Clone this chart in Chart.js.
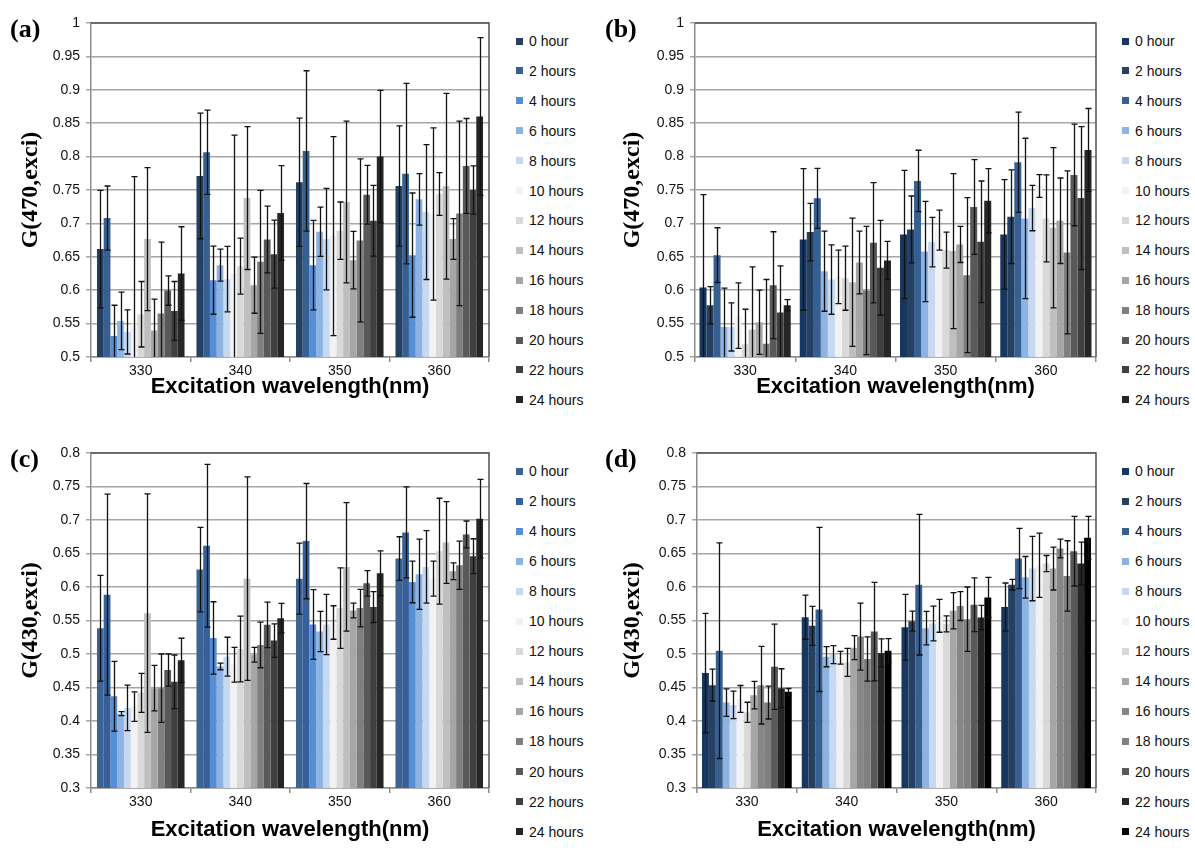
<!DOCTYPE html>
<html><head><meta charset="utf-8">
<script src="https://cdn.jsdelivr.net/npm/chart.js@4.4.1/dist/chart.umd.min.js"></script>
<style>
body{margin:0;background:#fff;width:1195px;height:850px;position:relative;overflow:hidden;font-family:"Liberation Sans",Arial,sans-serif;}
canvas.cv{position:absolute;}
.plabel{position:absolute;font-family:"Liberation Serif","Times New Roman",serif;font-weight:bold;font-size:26px;line-height:26px;color:#000;}
.lg{position:absolute;white-space:nowrap;font-size:14px;line-height:16px;height:16px;color:#111;}
.sw{position:absolute;width:7px;height:7px;}
</style></head><body>
<script>
// ---------- data ----------
const categories = ['330', '340', '350', '360'];
const hourLabels = ['0 hour','2 hours','4 hours','6 hours','8 hours','10 hours','12 hours','14 hours','16 hours','18 hours','20 hours','22 hours','24 hours'];

// panel (a): G(470,exci) — one row per series, values for 330/340/350/360 nm
const valuesA = [
  [0.6615, 0.771, 0.7615, 0.756],
  [0.708, 0.8065, 0.8085, 0.7745],
  [0.5315, 0.615, 0.6375, 0.6525],
  [0.554, 0.6375, 0.6875, 0.736],
  [0.5375, 0.6165, 0.6765, 0.717],
  [0.55, 0.625, 0.681, 0.714],
  [0.564, 0.636, 0.689, 0.744],
  [0.6765, 0.738, 0.732, 0.7555],
  [0.5395, 0.6075, 0.645, 0.6765],
  [0.565, 0.6425, 0.6745, 0.715],
  [0.5995, 0.676, 0.743, 0.786],
  [0.569, 0.654, 0.704, 0.75],
  [0.625, 0.7155, 0.8, 0.86]
];
const errorsA = [
  [0.088, 0.094, 0.096, 0.09],
  [0.048, 0.063, 0.12, 0.135],
  [0.046, 0.051, 0.067, 0.093],
  [0.043, 0.024, 0.037, 0.0385],
  [0.033, 0.049, 0.076, 0.101],
  [0.22, 0.207, 0.149, 0.129],
  [0.049, 0.042, 0.043, 0.032],
  [0.107, 0.107, 0.121, 0.139],
  [0.047, 0.042, 0.043, 0.0305],
  [0.107, 0.107, 0.122, 0.138],
  [0.022, 0.05, 0.044, 0.071],
  [0.044, 0.051, 0.053, 0.036],
  [0.07, 0.071, 0.099, 0.118]
];

// panel (b): G(470,exci)
const valuesB = [
  [0.604, 0.676, 0.6835, 0.6835],
  [0.5775, 0.687, 0.691, 0.71],
  [0.6525, 0.7375, 0.7635, 0.7915],
  [0.545, 0.6285, 0.658, 0.7075],
  [0.545, 0.616, 0.672, 0.723],
  [0.562, 0.62, 0.69, 0.756],
  [0.519, 0.618, 0.66, 0.7075],
  [0.541, 0.612, 0.6585, 0.6935],
  [0.552, 0.6415, 0.6685, 0.704],
  [0.52, 0.5995, 0.6225, 0.6565],
  [0.6075, 0.671, 0.7245, 0.7725],
  [0.5665, 0.6335, 0.6725, 0.738],
  [0.5775, 0.6445, 0.734, 0.81]
];
const errorsB = [
  [0.139, 0.106, 0.096, 0.082],
  [0.028, 0.043, 0.05, 0.07],
  [0.041, 0.045, 0.046, 0.075],
  [0.058, 0.06, 0.075, 0.12],
  [0.036, 0.052, 0.037, 0.034],
  [0.049, 0.04, 0.03, 0.017],
  [0.0525, 0.048, 0.027, 0.065],
  [0.094, 0.096, 0.116, 0.12],
  [0.048, 0.047, 0.027, 0.064],
  [0.096, 0.096, 0.116, 0.122],
  [0.08, 0.09, 0.071, 0.076],
  [0.07, 0.071, 0.091, 0.107],
  [0.0085, 0.0285, 0.048, 0.062]
];

// panel (c): G(430,exci)
const valuesC = [
  [0.5385, 0.626, 0.6125, 0.6425],
  [0.5885, 0.6615, 0.6685, 0.6815],
  [0.437, 0.524, 0.544, 0.6075],
  [0.411, 0.4815, 0.5335, 0.619],
  [0.4195, 0.496, 0.544, 0.63],
  [0.4215, 0.484, 0.547, 0.6125],
  [0.442, 0.5075, 0.5685, 0.6535],
  [0.561, 0.6125, 0.63, 0.6665],
  [0.449, 0.499, 0.565, 0.6235],
  [0.449, 0.5135, 0.5685, 0.6325],
  [0.476, 0.5435, 0.6055, 0.6785],
  [0.4585, 0.52, 0.57, 0.646],
  [0.4905, 0.5535, 0.6205, 0.702]
];
const errorsC = [
  [0.079, 0.063, 0.053, 0.0325],
  [0.15, 0.1215, 0.086, 0.068],
  [0.052, 0.054, 0.052, 0.031],
  [0.003, 0.005, 0.03, 0.0525],
  [0.034, 0.029, 0.045, 0.054],
  [0.022, 0.026, 0.025, 0.026],
  [0.029, 0.049, 0.06, 0.079],
  [0.178, 0.152, 0.096, 0.061],
  [0.034, 0.011, 0.011, 0.0125],
  [0.051, 0.034, 0.028, 0.036],
  [0.024, 0.034, 0.019, 0.02],
  [0.04, 0.025, 0.023, 0.026],
  [0.033, 0.022, 0.0335, 0.0585]
];

// panel (d): G(430,exci)
const valuesD = [
  [0.4715, 0.555, 0.54, 0.57],
  [0.4535, 0.542, 0.549, 0.6035],
  [0.505, 0.5665, 0.6035, 0.6425],
  [0.4275, 0.496, 0.5385, 0.6145],
  [0.424, 0.499, 0.5455, 0.6275],
  [0.433, 0.4945, 0.557, 0.6325],
  [0.413, 0.4875, 0.545, 0.635],
  [0.4385, 0.5095, 0.5645, 0.6275],
  [0.4535, 0.526, 0.5715, 0.6575],
  [0.4275, 0.4925, 0.552, 0.6165],
  [0.481, 0.5335, 0.5735, 0.6535],
  [0.449, 0.5015, 0.5545, 0.635],
  [0.4435, 0.505, 0.5845, 0.6735]
];
const errorsD = [
  [0.089, 0.033, 0.049, 0.036],
  [0.024, 0.029, 0.015, 0.008],
  [0.161, 0.1225, 0.105, 0.045],
  [0.0205, 0.015, 0.025, 0.031],
  [0.0205, 0.0135, 0.026, 0.048],
  [0.02, 0.0095, 0.0245, 0.048],
  [0.015, 0.021, 0.012, 0.012],
  [0.0205, 0.018, 0.027, 0.032],
  [0.058, 0.05, 0.0215, 0.014],
  [0.0245, 0.033, 0.048, 0.0525],
  [0.0635, 0.0735, 0.04, 0.052],
  [0.029, 0.021, 0.018, 0.032],
  [0.005, 0.018, 0.03, 0.032]
];

const colorsA = ['#254061','#376092','#558ed5','#8db3e2','#c6d9f1','#f2f2f2','#d9d9d9','#bfbfbf','#a6a6a6','#7f7f7f','#595959','#404040','#262626'];
const colorsB = ['#17375e','#254061','#376092','#8db3e2','#c6d9f1','#f2f2f2','#d9d9d9','#bfbfbf','#a6a6a6','#7f7f7f','#595959','#404040','#262626'];
const colorsC = ['#3b6393','#37609a','#558ed5','#8db3e2','#c6d9f1','#f2f2f2','#d9d9d9','#bfbfbf','#a6a6a6','#7f7f7f','#595959','#404040','#262626'];
const colorsD = ['#17375e','#254061','#376092','#8db3e2','#c6d9f1','#f2f2f2','#d9d9d9','#a6a6a6','#868686','#7f7f7f','#595959','#262626','#000000'];

const xTitle = 'Excitation wavelength(nm)';

// ---------- plugins ----------
const errorBarPlugin = {
  id: 'errbars',
  afterDatasetsDraw(chart) {
    const ctx = chart.ctx, ys = chart.scales.y, a = chart.chartArea;
    ctx.save();
    ctx.beginPath();
    ctx.rect(a.left, a.top - 1, a.right - a.left, a.bottom - a.top + 1);
    ctx.clip();
    ctx.strokeStyle = '#111';
    ctx.lineWidth = 1.3;
    chart.data.datasets.forEach((ds, i) => {
      const meta = chart.getDatasetMeta(i);
      meta.data.forEach((el, j) => {
        const v = ds.data[j], e = ds.errors[j];
        const x = Math.round(el.x) + 0.5;
        const y1 = ys.getPixelForValue(v + e), y2 = ys.getPixelForValue(v - e);
        ctx.beginPath();
        ctx.moveTo(x, y1); ctx.lineTo(x, y2);
        ctx.moveTo(x - 3, y1); ctx.lineTo(x + 3, y1);
        ctx.moveTo(x - 3, y2); ctx.lineTo(x + 3, y2);
        ctx.stroke();
      });
    });
    ctx.restore();
  }
};
const framePlugin = {
  id: 'frame',
  afterDraw(chart) {
    const ctx = chart.ctx, a = chart.chartArea;
    ctx.save();
    ctx.strokeStyle = '#505050';
    ctx.lineWidth = 1.5;
    ctx.beginPath();
    ctx.moveTo(a.left, a.top); ctx.lineTo(a.right, a.top); ctx.lineTo(a.right, a.bottom);
    ctx.stroke();
    ctx.restore();
  }
};

function makePanel(p) {
  const canvas = document.createElement('canvas');
  canvas.className = 'cv';
  canvas.width = p.w; canvas.height = p.h;
  canvas.style.left = p.left + 'px'; canvas.style.top = p.top + 'px';
  canvas.style.width = p.w + 'px'; canvas.style.height = p.h + 'px';
  document.body.appendChild(canvas);
  const datasets = hourLabels.map((lab, i) => ({
    label: lab, data: p.values[i], errors: p.errors[i],
    backgroundColor: p.colors[i], borderWidth: 0,
    categoryPercentage: p.catPct, barPercentage: 1
  }));
  new Chart(canvas, {
    type: 'bar',
    data: { labels: categories, datasets },
    options: {
      responsive: false, animation: false, devicePixelRatio: 1,
      layout: { padding: { top: p.padTop, right: p.padRight, left: 0, bottom: 0 } },
      plugins: { legend: { display: false }, tooltip: { enabled: false } },
      scales: {
        x: {
          grid: { display: true, drawOnChartArea: false, drawTicks: true, tickLength: 5, color: '#8c8c8c', lineWidth: 1.5, offset: true },
          border: { display: true, color: '#8c8c8c', width: 1.5 },
          ticks: { font: { size: 14, family: 'Liberation Sans' }, color: '#111', padding: 1, maxRotation: 0 },
          title: { display: true, text: xTitle, color: '#000', font: { size: 22, weight: 'bold', family: 'Liberation Sans' }, padding: { top: 0, bottom: p.xTitlePad } },
          afterFit(s) { s.height = p.xH; }
        },
        y: {
          min: p.min, max: p.max,
          ticks: { stepSize: 0.05, font: { size: 14, family: 'Liberation Sans' }, color: '#111', padding: 6,
                   callback: v => String(parseFloat(Number(v).toFixed(2))) },
          grid: { color: '#a6a6a6', lineWidth: 1.5, tickLength: 5 },
          border: { display: true, color: '#8c8c8c', width: 1.5 },
          title: { display: true, text: p.yTitle, color: '#000', font: { size: 24, weight: 'bold', family: 'Liberation Serif' }, padding: { top: p.yTitlePad, bottom: 0 } },
          afterFit(s) { s.width = p.yW; }
        }
      }
    },
    plugins: [errorBarPlugin, framePlugin]
  });
  // panel letter
  const lab = document.createElement('div');
  lab.className = 'plabel'; lab.textContent = p.letter;
  lab.style.left = p.letterX + 'px'; lab.style.top = p.letterY + 'px';
  document.body.appendChild(lab);
  // legend (built from the dataset labels/colours)
  hourLabels.forEach((h, i) => {
    const cy = p.legY + i * p.legStep;
    const sw = document.createElement('div');
    sw.className = 'sw'; sw.style.background = p.colors[i];
    sw.style.left = p.legX + 'px'; sw.style.top = (cy - 3.5) + 'px';
    document.body.appendChild(sw);
    const t = document.createElement('div');
    t.className = 'lg'; t.textContent = h;
    t.style.left = (p.legX + 13) + 'px'; t.style.top = (cy - 8) + 'px';
    document.body.appendChild(t);
  });
}

makePanel({ left: 0, top: 0, w: 500, h: 410, padTop: 23, padRight: 11, yW: 91, xH: 53, xTitlePad: 10, yTitlePad: 16,
  min: 0.5, max: 1, values: valuesA, errors: errorsA, colors: colorsA, catPct: 0.88, yTitle: 'G(470,exci)',
  letter: '(a)', letterX: 10, letterY: 16, legX: 516, legY: 41, legStep: 29.9 });
makePanel({ left: 600, top: 0, w: 500, h: 410, padTop: 23, padRight: 4, yW: 95, xH: 53, xTitlePad: 10, yTitlePad: 18,
  min: 0.5, max: 1, values: valuesB, errors: errorsB, colors: colorsB, catPct: 0.91, yTitle: 'G(470,exci)',
  letter: '(b)', letterX: 605, letterY: 16, legX: 1122, legY: 41, legStep: 29.9 });
makePanel({ left: 0, top: 430, w: 500, h: 420, padTop: 23, padRight: 11, yW: 91, xH: 62, xTitlePad: 7, yTitlePad: 16,
  min: 0.3, max: 0.8, values: valuesC, errors: errorsC, colors: colorsC, catPct: 0.88, yTitle: 'G(430,exci)',
  letter: '(c)', letterX: 10, letterY: 446, legX: 516, legY: 471, legStep: 30.05 });
makePanel({ left: 600, top: 430, w: 500, h: 420, padTop: 23, padRight: 4, yW: 97, xH: 62, xTitlePad: 7, yTitlePad: 18,
  min: 0.3, max: 0.8, values: valuesD, errors: errorsD, colors: colorsD, catPct: 0.9, yTitle: 'G(430,exci)',
  letter: '(d)', letterX: 605, letterY: 446, legX: 1122, legY: 471, legStep: 30.05 });
</script>
</body></html>
